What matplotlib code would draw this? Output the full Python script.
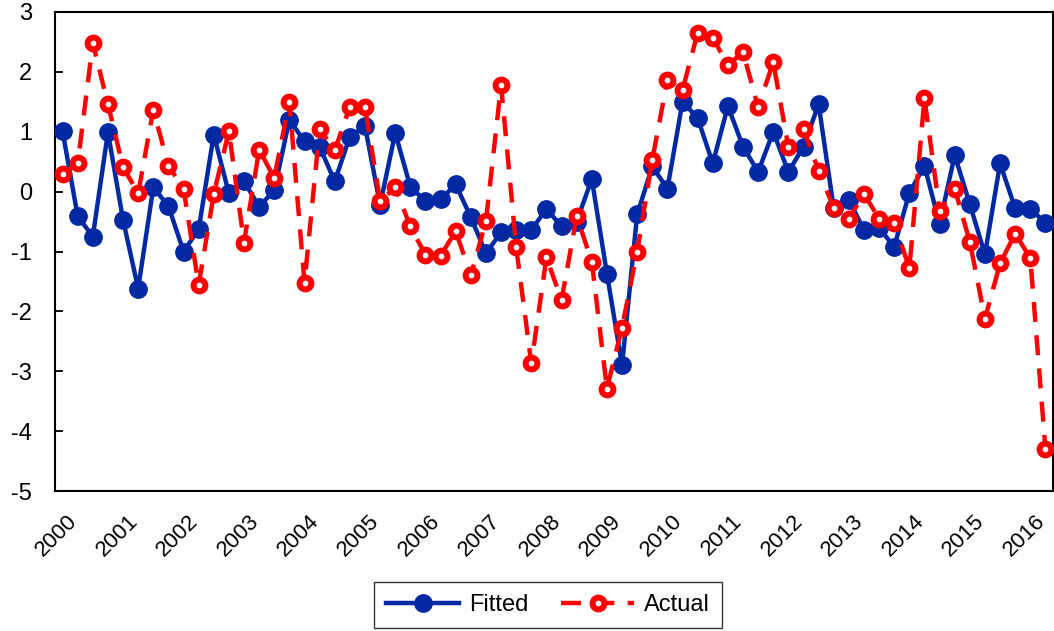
import matplotlib
matplotlib.use("Agg")
import matplotlib.pyplot as plt
import matplotlib.transforms as mtransforms
import numpy as np

# quarterly series, 2000Q1 .. 2016Q2
fitted = [1.01, -0.41, -0.75, 0.99, -0.47, -1.62, 0.07, -0.24, -1.00, -0.63,
          0.95, -0.03, 0.17, -0.25, 0.02, 1.20, 0.84, 0.75, 0.17, 0.92,
          1.09, -0.22, 0.98, 0.08, -0.16, -0.13, 0.12, -0.43, -1.03, -0.68,
          -0.64, -0.64, -0.29, -0.58, -0.50, 0.21, -1.37, -2.90, -0.38, 0.42,
          0.05, 1.50, 1.23, 0.47, 1.43, 0.75, 0.33, 1.00, 0.33, 0.75,
          1.46, -0.28, -0.14, -0.64, -0.61, -0.92, -0.02, 0.43, -0.54, 0.61,
          -0.21, -1.05, 0.47, -0.28, -0.29, -0.52]
actual = [0.30, 0.47, 2.48, 1.46, 0.41, -0.03, 1.37, 0.43, 0.05, -1.56,
          -0.04, 1.01, -0.85, 0.70, 0.23, 1.50, -1.52, 1.04, 0.69, 1.42,
          1.41, -0.16, 0.07, -0.58, -1.06, -1.07, -0.66, -1.40, -0.49, 1.78,
          -0.93, -2.87, -1.10, -1.81, -0.41, -1.17, -3.29, -2.27, -1.00, 0.53,
          1.87, 1.70, 2.65, 2.57, 2.11, 2.33, 1.41, 2.16, 0.75, 1.04,
          0.35, -0.27, -0.45, -0.04, -0.45, -0.52, -1.28, 1.56, -0.32, 0.05,
          -0.84, -2.12, -1.20, -0.70, -1.11, -4.30]
years = [str(y) for y in range(2000, 2017)]

plt.rcParams['font.family'] = ['Liberation Sans', 'DejaVu Sans']

fig = plt.figure(figsize=(10.54, 6.31), dpi=100)
ax = fig.add_axes([55/1054, 1 - 491/631, 998/1054, 479/631])

x = np.arange(len(fitted))
ax.plot(x, fitted, color='#0029A3', lw=3.2, marker='o', ms=12.5,
        mfc='#0029A3', mec='#0029A3', label='Fitted', zorder=3)
ax.plot(x, actual, color='#FF0000', lw=3.2, ls=(0, (4.5, 3)), marker='o', ms=8.5,
        mfc='white', mec='#FF0000', mew=4.3, label='Actual', zorder=4)

ax.set_xlim(-0.5, len(fitted) - 0.5)
ax.set_ylim(-5, 3)
ax.set_yticks(range(-5, 4))
ax.set_yticklabels([str(v) for v in range(-5, 4)])
ax.set_xticks(np.arange(0, len(fitted), 4))
ax.set_xticklabels(years, rotation=45, ha='center')

ax.tick_params(axis='y', direction='in', length=6, width=1.3, labelsize=17, pad=16.5)
ax.tick_params(axis='x', length=0, labelsize=16, pad=14)
for s in ax.spines.values():
    s.set_linewidth(1.5)

# nudge year labels a little to the left, as in the original
shift = mtransforms.ScaledTranslation(-6/100, 0, fig.dpi_scale_trans)
for lab in ax.get_xticklabels():
    lab.set_transform(lab.get_transform() + shift)

fig.legend(loc='lower center', bbox_to_anchor=(548/1054, 3/631), ncol=2,
           frameon=True, fancybox=False, edgecolor='black', fontsize=17,
           handlelength=3.1, handletextpad=0.4, borderpad=0.5,
           columnspacing=1.4, borderaxespad=0.0)

fig.savefig('out.png', dpi=100)
